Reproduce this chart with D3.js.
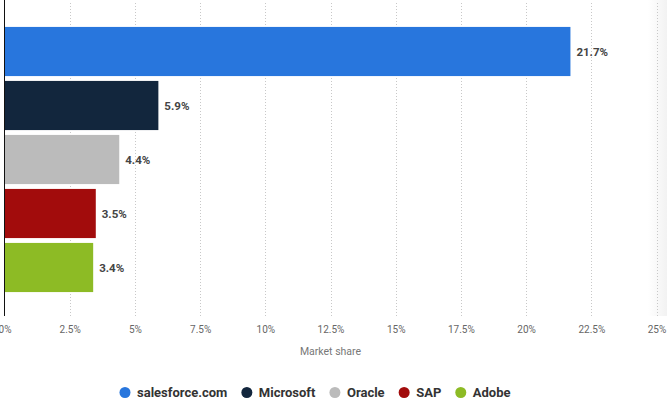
<!DOCTYPE html>
<html><head><meta charset="utf-8">
<script src="https://cdn.jsdelivr.net/npm/d3@7"></script>
<style>body{margin:0;background:#fff}svg{display:block}</style>
</head><body>
<svg id="c" width="667" height="412"></svg>
<script>
const categories = ["salesforce.com","Microsoft","Oracle","SAP","Adobe"];
const values = [21.7, 5.9, 4.4, 3.5, 3.4];
const colors = ["#2876dd","#12263d","#bbbbbb","#a20c0c","#8dbb25"];
const tickValues = [0,2.5,5,7.5,10,12.5,15,17.5,20,22.5,25];
const axisTitle = "Market share";

const svg = d3.select("#c");
const FONT = "Roboto, Arial, sans-serif";
const x = d3.scaleLinear().domain([0,25]).range([4.5,656.5]);
const y = d3.scaleBand().domain(categories).range([24.5,294.5]).paddingInner(0.09).paddingOuter(0.045);
const plotBottom = 316;

// right shade
const defs = svg.append("defs");
const g1 = defs.append("linearGradient").attr("id","shade").attr("x1","0").attr("x2","1");
g1.append("stop").attr("offset","0").attr("stop-color","#ffffff");
g1.append("stop").attr("offset","1").attr("stop-color","#f2f2f2");
svg.append("rect").attr("x",648).attr("y",0).attr("width",19).attr("height",plotBottom).attr("fill","url(#shade)");

// gridlines
svg.append("g").selectAll("line").data(tickValues.slice(1)).join("line")
  .attr("x1",d=>Math.round(x(d))+0.5).attr("x2",d=>Math.round(x(d))+0.5)
  .attr("y1",3).attr("y2",plotBottom)
  .attr("stroke","#c8c8c8").attr("stroke-width",1).attr("stroke-dasharray","1,2");

// bars
svg.append("g").selectAll("rect").data(categories).join("rect")
  .attr("x",x(0)).attr("y",d=>y(d))
  .attr("width",(d,i)=>x(values[i])-x(0)).attr("height",y.bandwidth())
  .attr("fill",(d,i)=>colors[i]);

// value labels
svg.append("g").selectAll("text").data(categories).join("text")
  .attr("x",(d,i)=>x(values[i])+6).attr("y",d=>y(d)+y.bandwidth()/2)
  .attr("dy","0.35em")
  .attr("font-family",FONT).attr("font-weight","bold")
  .attr("font-size",11.5).attr("fill","#444")
  .text((d,i)=>values[i].toFixed(1)+"%");

// y axis line
svg.append("line").attr("x1",4.5).attr("x2",4.5).attr("y1",0).attr("y2",plotBottom)
  .attr("stroke","#111").attr("stroke-width",1);

// x axis tick labels
const xAxis = d3.axisBottom(x).tickValues(tickValues).tickSize(0).tickPadding(0)
  .tickFormat(d=>d3.format("~g")(d)+"%");
const ax = svg.append("g").attr("transform",`translate(0,${plotBottom+10})`).call(xAxis);
ax.select(".domain").remove();
ax.selectAll("text").attr("font-family",FONT).attr("font-size",10)
  .attr("fill","#666").attr("dy","0.71em");

svg.append("text").attr("x",x(12.5)).attr("y",355).attr("text-anchor","middle")
  .attr("font-family",FONT).attr("font-size",10.5).attr("fill","#777")
  .text(axisTitle);

// legend
const lgRoot = svg.append("g");
const items = lgRoot.selectAll("g").data(categories).join("g");
items.append("circle").attr("r",5.5).attr("cy",0).attr("fill",(d,i)=>colors[i]);
items.append("text").attr("x",12).attr("dy","0.35em")
  .attr("font-family",FONT).attr("font-weight","bold")
  .attr("font-size",13).attr("fill","#333").text(d=>d);
let cx = 0;
items.each(function(){
  const w = this.querySelector("text").getComputedTextLength();
  d3.select(this).attr("transform",`translate(${cx+5.5},0)`);
  cx += 5.5 + 12 + w + 14;
});
const totalW = cx - 14;
lgRoot.attr("transform",`translate(${315 - totalW/2},392.5)`);
</script>
</body></html>
